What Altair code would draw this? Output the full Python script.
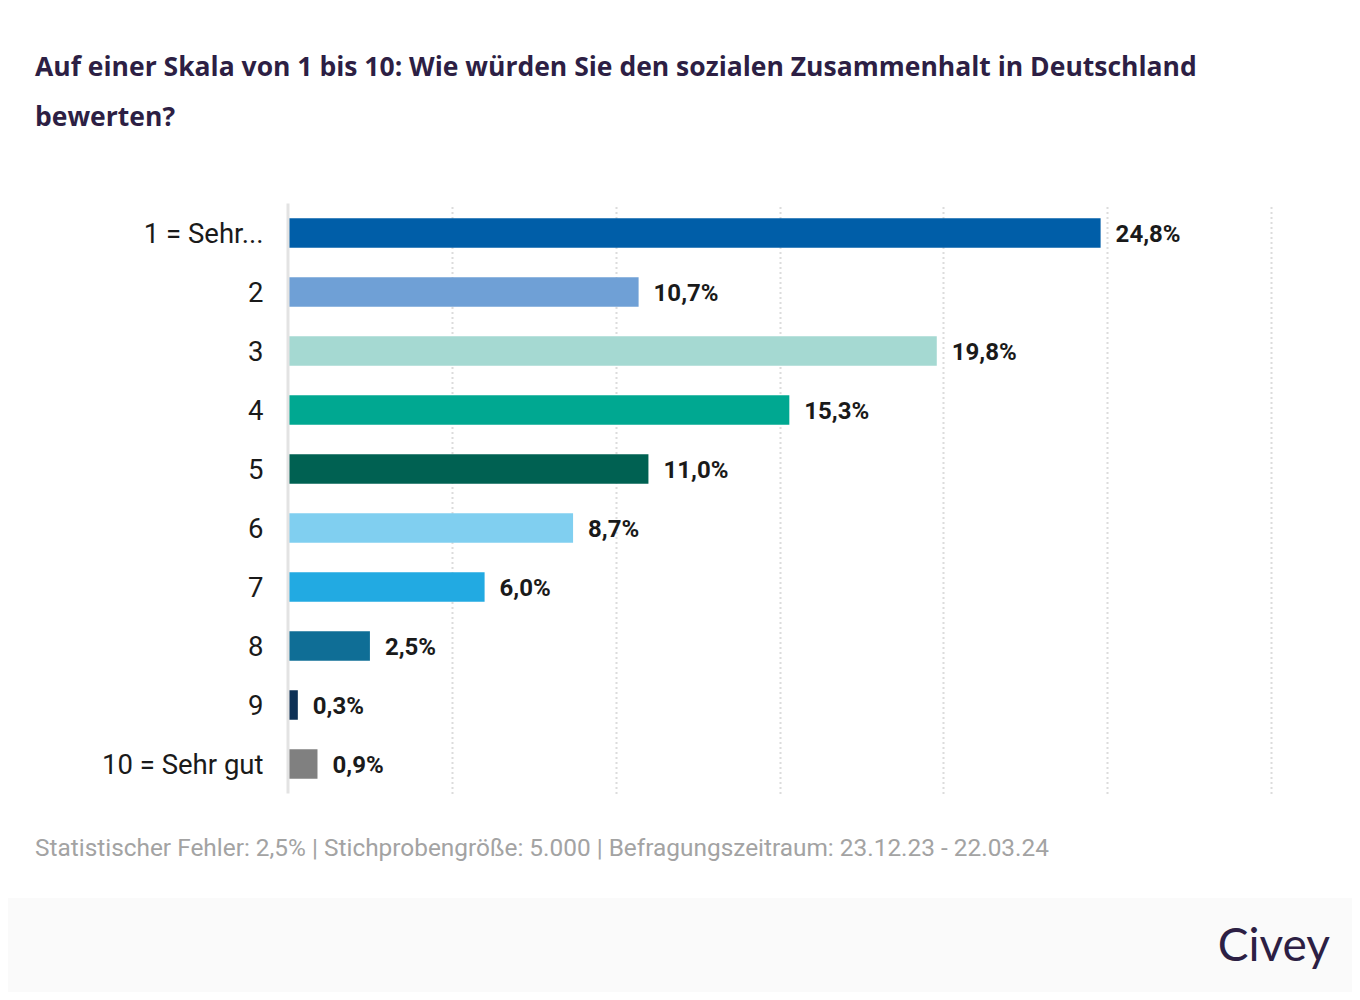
import altair as alt
import pandas as pd

categories = ["1 = Sehr...", "2", "3", "4", "5", "6", "7", "8", "9", "10 = Sehr gut"]
values = [24.8, 10.7, 19.8, 15.3, 11.0, 8.7, 6.0, 2.5, 0.3, 0.9]
labels = ["24,8%", "10,7%", "19,8%", "15,3%", "11,0%", "8,7%", "6,0%", "2,5%", "0,3%", "0,9%"]
colors = ["#005EA8", "#6FA0D6", "#A5D9D2", "#00A891", "#006152",
          "#80CFF0", "#22AAE2", "#0F6E96", "#0D3156", "#808080"]
grid_values = [5, 10, 15, 20, 25, 30]

title_lines = ["Auf einer Skala von 1 bis 10: Wie würden Sie den sozialen Zusammenhalt in Deutschland",
               "bewerten?"]
footer = "Statistischer Fehler: 2,5% | Stichprobengröße: 5.000 | Befragungszeitraum: 23.12.23 - 22.03.24"
brand = "Civey"

df = pd.DataFrame({"cat": categories, "value": values, "label": labels, "color": colors})

W, H = 983, 590
PAD_L, PAD_T = 280, 195.5
TOTAL_W, TOTAL_H = 1344, 984

ysc = alt.Scale(domain=categories, paddingInner=0.5, paddingOuter=0.25)
xsc = alt.Scale(domain=[0, 30], nice=False, zero=True)

band = alt.Chart(pd.DataFrame({"a": [0]})).mark_rect(color="#fafafa").encode(
    x=alt.value(-PAD_L), x2=alt.value(TOTAL_W - PAD_L),
    y=alt.value(694.5), y2=alt.value(TOTAL_H - PAD_T + 10)
)

bars = alt.Chart(df).mark_bar(cornerRadius=0).encode(
    x=alt.X("value:Q", scale=xsc,
            axis=alt.Axis(values=grid_values, grid=True, gridDash=[2, 3], gridColor="#dcdcdc",
                          gridWidth=2, labels=False, ticks=False, domain=False, title=None)),
    y=alt.Y("cat:N", scale=ysc, sort=categories,
            axis=alt.Axis(title=None, domain=False, ticks=False, labelPadding=25, labelOffset=1.5,
                          labelFont="Roboto", labelFontSize=27.5, labelColor="#1a1a1a",
                          labelLimit=300)),
    color=alt.Color("color:N", scale=None),
)

zero = alt.Chart(pd.DataFrame({"a": [0]})).mark_rule(color="#e3e3e3", strokeWidth=3).encode(
    x=alt.value(0), y=alt.value(0), y2=alt.value(H)
)

text = alt.Chart(df).mark_text(align="left", baseline="middle", dx=15, dy=1.5, font="Roboto",
                               fontSize=24, fontWeight="bold", color="#1a1a1a").encode(
    x=alt.X("value:Q", scale=xsc), y=alt.Y("cat:N", scale=ysc, sort=categories), text="label:N"
)

tdf = pd.DataFrame({"t": title_lines, "yy": [-135.5, -85.5]})
title = alt.Chart(tdf).mark_text(align="left", baseline="middle", font="Open Sans", fontSize=26.5,
                                 fontWeight="bold", color="#2d1f44").encode(
    x=alt.value(-253), y=alt.Y("yy:Q", scale=None), text="t:N"
)

foot = alt.Chart(pd.DataFrame({"t": [footer]})).mark_text(
    align="left", baseline="middle", font="Roboto", fontSize=24.4, color="#a3a3a3").encode(
    x=alt.value(-253), y=alt.value(645.5), text="t:N"
)

logo = alt.Chart(pd.DataFrame({"t": [brand]})).mark_text(
    align="right", baseline="alphabetic", font="Lato", fontSize=46, color="#2d1f44").encode(
    x=alt.value(1042), y=alt.value(757), text="t:N"
)

chart = alt.layer(band, bars, zero, text, title, foot, logo).properties(
    width=W, height=H,
    autosize=alt.AutoSizeParams(type="none"),
    padding={"left": PAD_L, "top": PAD_T, "right": TOTAL_W - PAD_L - W, "bottom": TOTAL_H - PAD_T - H},
    background="white",
).configure_view(stroke=None)

chart.save("out.html", embed_options={"renderer": "svg", "actions": False})
